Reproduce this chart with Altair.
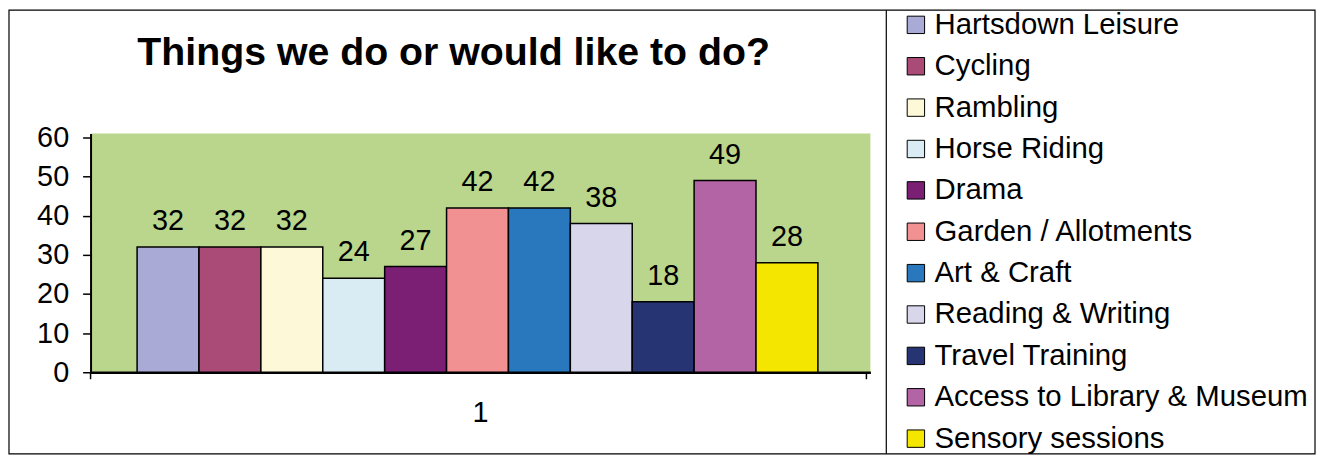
import altair as alt
import pandas as pd

series = ["Hartsdown Leisure", "Cycling", "Rambling", "Horse Riding", "Drama",
          "Garden / Allotments", "Art & Craft", "Reading & Writing",
          "Travel Training", "Access to Library & Museum", "Sensory sessions"]
values = [32, 32, 32, 24, 27, 42, 42, 38, 18, 49, 28]
colors = ["#A9AAD6", "#AA4A76", "#FCF8D8", "#D9ECF3", "#7A1F74", "#F19192",
          "#2978BD", "#D8D6EB", "#263474", "#B364A4", "#F5E600"]
group = ["1"] * len(series)
y_ticks = [0, 10, 20, 30, 40, 50, 60]
title_text = "Things we do or would like to do?"

df = pd.DataFrame({"group": group, "series": series, "value": values})

FONT = "Liberation Sans"
W, H = 784, 240

x_enc = alt.X("group:N",
              scale=alt.Scale(paddingInner=0, paddingOuter=0),
              axis=alt.Axis(title=None, labelAngle=0, ticks=False, labelFontSize=29,
                            labelFont=FONT, labelColor="black", labelPadding=27,
                            domainColor="black", domainWidth=2.5))
xo_enc = alt.XOffset("series:N", sort=series,
                     scale=alt.Scale(paddingInner=0, paddingOuter=0.8, align=0.47))
y_enc = alt.Y("value:Q",
              scale=alt.Scale(domain=[0, 61], nice=False),
              axis=alt.Axis(title=None, values=y_ticks, grid=False, labelFontSize=29,
                            labelFont=FONT, labelColor="black", labelPadding=14,
                            tickSize=8, tickColor="black", tickWidth=1.5,
                            domainColor="black", domainWidth=2))
color_enc = alt.Color("series:N", sort=series,
                      scale=alt.Scale(domain=series, range=colors),
                      legend=alt.Legend(title=None, orient="none", legendX=815, legendY=-124,
                                        symbolType="square", symbolSize=306,
                                        symbolStrokeColor="black", symbolStrokeWidth=1,
                                        symbolOpacity=1,
                                        labelFontSize=29.5, labelFont=FONT, labelColor="black",
                                        labelOffset=4, rowPadding=10.6, padding=0,
                                        labelLimit=420))

base = alt.Chart(df)
bars = base.mark_bar(stroke="black", strokeWidth=1.5, opacity=1).encode(
    x=x_enc, xOffset=xo_enc, y=y_enc, color=color_enc)
labels = base.mark_text(baseline="alphabetic", dy=-17, fontSize=29, font=FONT,
                        color="black").encode(
    x=x_enc, xOffset=xo_enc, y=y_enc, text=alt.Text("value:Q"))

one = pd.DataFrame({"t": [title_text]})
title = alt.Chart(one).mark_text(fontSize=39.5, font=FONT, fontWeight="bold",
                                 baseline="alphabetic", align="center",
                                 color="black").encode(
    x=alt.value(365), y=alt.value(-69), text="t:N")

frame = alt.Chart(one).mark_rect(fillOpacity=0, stroke="black", strokeWidth=1.2).encode(
    x=alt.value(-82), x2=alt.value(1231), y=alt.value(-124), y2=alt.value(322))
sep = alt.Chart(one).mark_rule(color="black", strokeWidth=1.2).encode(
    x=alt.value(800), y=alt.value(-124), y2=alt.value(322))
tick_l = alt.Chart(one).mark_rule(color="black", strokeWidth=1.5).encode(
    x=alt.value(0), y=alt.value(H), y2=alt.value(H + 7))
tick_r = alt.Chart(one).mark_rule(color="black", strokeWidth=1.5).encode(
    x=alt.value(W - 4), y=alt.value(H), y2=alt.value(H + 7))

chart = alt.layer(frame, sep, bars, labels, title, tick_l, tick_r).properties(
    width=W, height=H, padding=0, background="white"
).configure_view(fill="#BAD68C", stroke=None, strokeWidth=0)

chart.save("out.html", embed_options={"renderer": "svg", "actions": False})
